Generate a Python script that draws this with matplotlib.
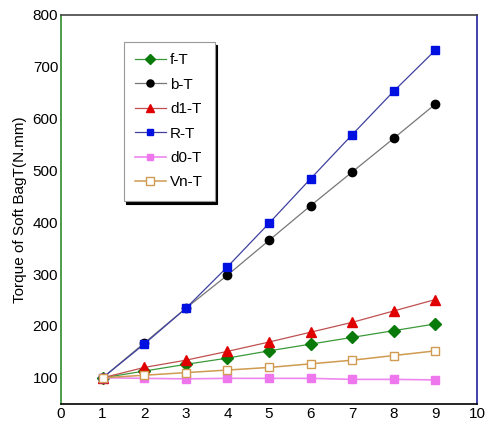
import matplotlib.pyplot as plt

# data
x = [1, 2, 3, 4, 5, 6, 7, 8, 9]
f_T = [100, 113, 126, 138, 152, 165, 178, 191, 204]
b_T = [100, 167, 234, 298, 365, 432, 497, 562, 628]
d1_T = [100, 120, 134, 151, 169, 188, 207, 229, 251]
R_T = [100, 165, 234, 314, 398, 484, 569, 653, 732]
d0_T = [100, 99, 98, 99, 99, 99, 97, 97, 96]
Vn_T = [100, 105, 110, 115, 120, 127, 134, 143, 152]

plt.rcParams['font.family'] = ['Liberation Sans', 'DejaVu Sans']

fig = plt.figure(figsize=(4.89, 4.25), dpi=100)
ax = fig.add_axes([0.1247, 0.05, 0.8508, 0.915])

ax.plot(x, f_T, color='#3a9a3a', lw=0.9, marker='D', ms=6, mfc='#0a7a0a', mec='#0a7a0a', label='f-T')
ax.plot(x, b_T, color='#777777', lw=0.9, marker='o', ms=6, mfc='black', mec='black', label='b-T')
ax.plot(x, d1_T, color='#c05050', lw=0.9, marker='^', ms=7, mfc='#e00000', mec='#e00000', label='d1-T')
ax.plot(x, R_T, color='#4040a0', lw=0.9, marker='s', ms=5.5, mfc='#0010e0', mec='#0010e0', label='R-T')
ax.plot(x, d0_T, color='#ee88ee', lw=1.2, marker='s', ms=5.5, mfc='#ee77ee', mec='#ee77ee', label='d0-T')
ax.plot(x, Vn_T, color='#d09a50', lw=1.1, marker='s', ms=6, mfc='white', mec='#d09a50', label='Vn-T')

ax.set_xlim(0, 10)
ax.set_ylim(50, 800)
ax.set_xticks(range(0, 11))
ax.set_yticks(range(100, 801, 100))
ax.tick_params(length=0, labelsize=11, pad=2)
ax.set_ylabel('Torque of Soft BagT(N.mm)', fontsize=11, labelpad=4)

ax.spines['left'].set_color('#2e8b2e')
ax.spines['right'].set_color('#2020a0')
ax.spines['top'].set_color('#444444')
ax.spines['bottom'].set_color('black')
for s in ax.spines.values():
    s.set_linewidth(1.2)

leg = ax.legend(loc='upper left', bbox_to_anchor=(0.132, 0.95), fontsize=11,
                fancybox=False, edgecolor='#999999', framealpha=1,
                shadow={'color': 'black', 'alpha': 1}, handlelength=2.0,
                labelspacing=0.68, borderpad=0.75, handletextpad=0.3,
                markerscale=0.85)
leg.get_frame().set_linewidth(0.8)

plt.savefig('out.png', dpi=100)
